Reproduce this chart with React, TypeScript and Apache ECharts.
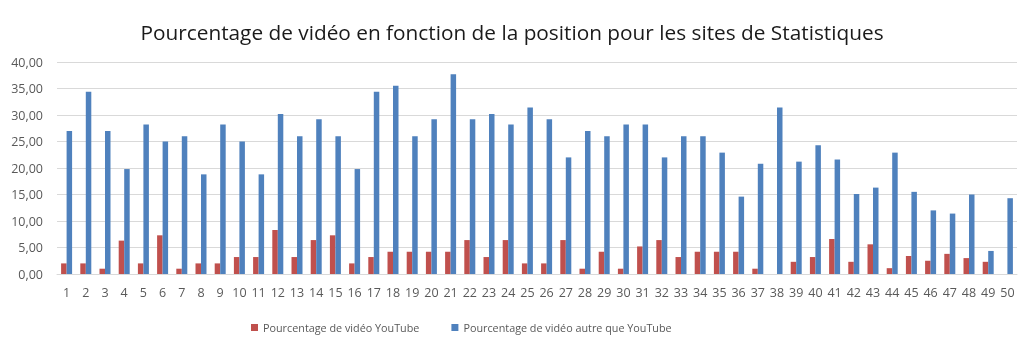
import React, { useEffect, useRef } from "react";
import * as echarts from "echarts";

const title = "Pourcentage de vidéo en fonction de la position pour les sites de Statistiques";
const categories = Array.from({ length: 50 }, (_, i) => String(i + 1));
const seriesNames = ["Pourcentage de vidéo YouTube", "Pourcentage de vidéo autre que YouTube"];
const youtube = [
  2.0, 2.0, 1.0, 6.3, 2.0, 7.3, 1.0, 2.0, 2.0, 3.2,
  3.2, 8.3, 3.2, 6.4, 7.3, 2.0, 3.2, 4.2, 4.2, 4.2,
  4.2, 6.4, 3.2, 6.4, 2.0, 2.0, 6.4, 1.0, 4.2, 1.0,
  5.2, 6.4, 3.2, 4.2, 4.2, 4.2, 1.0, 0, 2.3, 3.2,
  6.6, 2.3, 5.6, 1.1, 3.4, 2.5, 3.8, 3.0, 2.3, 0,
];
const autre = [
  27.0, 34.4, 27.0, 19.8, 28.2, 25.0, 26.0, 18.8, 28.2, 25.0,
  18.8, 30.2, 26.0, 29.2, 26.0, 19.8, 34.4, 35.5, 26.0, 29.2,
  37.7, 29.2, 30.2, 28.2, 31.4, 29.2, 22.0, 27.0, 26.0, 28.2,
  28.2, 22.0, 26.0, 26.0, 22.9, 14.6, 20.8, 31.4, 21.2, 24.3,
  21.6, 15.1, 16.3, 22.9, 15.5, 12.0, 11.4, 15.0, 4.35, 14.3,
];
const colors = ["#C0504D", "#4F81BD"];

export default function App() {
  const ref = useRef<HTMLDivElement>(null);
  useEffect(() => {
    if (!ref.current) return;
    const chart = echarts.init(ref.current, undefined, { renderer: "svg" });
    chart.setOption({
      animation: false,
      color: colors,
      title: {
        text: title,
        left: "center",
        top: 16,
        textStyle: { fontFamily: "Open Sans", fontSize: 20.8, fontWeight: "normal", color: "#1a1a1a" },
      },
      legend: {
        bottom: 15,
        left: 246,
        itemWidth: 7,
        itemHeight: 7,
        itemGap: 32,
        itemTextGap: 3,
        icon: "rect",
        textStyle: { fontFamily: "Open Sans", fontSize: 10.8, color: "#595959" },
        data: seriesNames,
      },
      grid: { left: 57, right: 7, top: 62, bottom: 79, containLabel: false },
      xAxis: {
        type: "category",
        data: categories,
        axisTick: { show: false },
        axisLine: { lineStyle: { color: "#d9d9d9" } },
        axisLabel: { fontFamily: "Open Sans", fontSize: 12.5, color: "#595959", interval: 0, margin: 12 },
      },
      yAxis: {
        type: "value",
        min: 0,
        max: 40,
        interval: 5,
        axisLine: { show: false },
        axisTick: { show: false },
        splitLine: { lineStyle: { color: "#d9d9d9" } },
        axisLabel: {
          fontFamily: "Open Sans",
          fontSize: 12.5,
          color: "#595959",
          margin: 14,
          formatter: (v: number) => v.toFixed(2).replace(".", ","),
        },
      },
      series: [
        { name: seriesNames[0], type: "bar", data: youtube, barWidth: 5.5, barGap: "0%" },
        { name: seriesNames[1], type: "bar", data: autre, barWidth: 5.5, barGap: "0%" },
      ],
    });
    return () => chart.dispose();
  }, []);
  return <div ref={ref} style={{ position: "fixed", left: 0, top: 0, width: 1024, height: 353 }} />;
}
